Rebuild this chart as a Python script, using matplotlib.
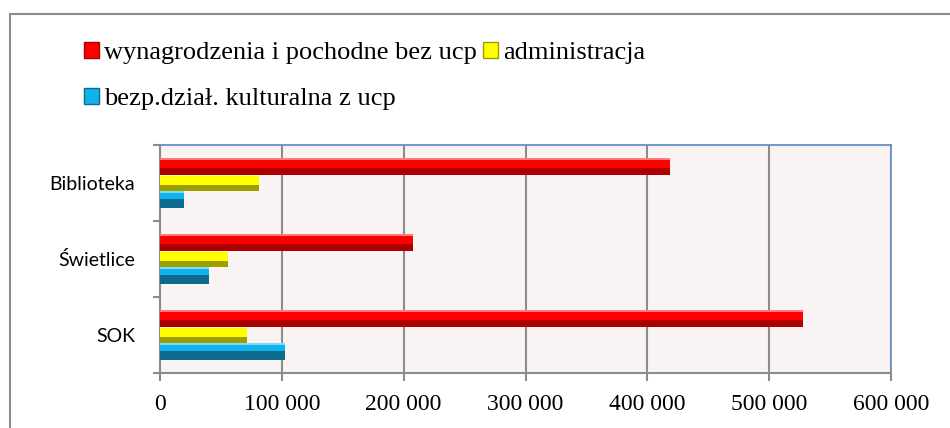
import matplotlib
matplotlib.use("Agg")
import matplotlib.pyplot as plt
from matplotlib.patches import Patch, Rectangle
import numpy as np

categories = ["SOK", "Świetlice", "Biblioteka"]
series_names = ["wynagrodzenia i pochodne bez ucp", "administracja", "bezp.dział. kulturalna z ucp"]
wynagrodzenia = [527500, 207800, 419000]
administracja = [71500, 55800, 81200]
bezp_dzial = [102700, 40200, 19700]
x_ticks = [0, 100000, 200000, 300000, 400000, 500000, 600000]
x_tick_labels = ["0", "100 000", "200 000", "300 000", "400 000", "500 000", "600 000"]

main_colors = ["#FF0000", "#FFFF00", "#0FB4EE"]
dark_colors = ["#AC0000", "#9E9E00", "#0D6A8C"]
light_edge = ["#FF7A7A", "#FFFF9A", "#7FDBFA"]

fig = plt.figure(figsize=(9.5, 4.28), dpi=100)
ax = fig.add_axes([160 / 950, 1 - 373 / 428, (891 - 160) / 950, (373 - 145) / 428])
ax.set_facecolor("#FAF3F3")

y = np.arange(len(categories))
h = 0.215
offsets = [h, 0.0, -h]
data = [wynagrodzenia, administracja, bezp_dzial]
dark_frac = [0.4, 0.4, 0.55]
for vals, off, c, dc, lc, df in zip(data, offsets, main_colors, dark_colors, light_edge, dark_frac):
    ax.barh(y + off, vals, height=h, color=c, edgecolor="none", zorder=3)
    ax.barh(y + off - h / 2 + h * df / 2, vals, height=h * df, color=dc, edgecolor="none", zorder=4)
    ax.barh(y + off + h / 2 - h * 0.05, vals, height=h * 0.1, color=lc, edgecolor="none", zorder=4)

ax.set_xlim(0, 600000)
ax.set_ylim(-0.5, 2.5)
ax.set_xticks(x_ticks)
ax.set_xticklabels(x_tick_labels, family="Liberation Serif", fontsize=17)
ax.tick_params(axis="x", length=6, width=1.5, color="#8C8C8C", pad=9)
ax.xaxis.grid(True, color="#8C8C8C", linewidth=1.5, zorder=1)
ax.set_axisbelow(True)

ax.set_yticks(np.arange(-0.5, len(categories), 1.0))
ax.set_yticklabels([])
ax.tick_params(axis="y", which="major", length=5, width=1.5, color="#8C8C8C")
ax.set_yticks(y, minor=True)
ax.set_yticklabels(categories, minor=True, family="Lato", fontsize=14)
ax.tick_params(axis="y", which="minor", length=0, pad=18)

for s in ["left", "bottom"]:
    ax.spines[s].set_color("#8C8C8C")
    ax.spines[s].set_linewidth(1.5)
for s in ["top", "right"]:
    ax.spines[s].set_color("#6890C6")
    ax.spines[s].set_linewidth(1.3)

handles = [Patch(facecolor=main_colors[0], edgecolor=dark_colors[0]),
           Patch(facecolor=main_colors[2], edgecolor=dark_colors[2]),
           Patch(facecolor=main_colors[1], edgecolor=dark_colors[1])]
labels = [series_names[0], series_names[2], series_names[1]]
fig.legend(handles, labels, loc="upper left", bbox_to_anchor=(84 / 950, 1 - 42 / 428),
           ncol=2, frameon=False, prop={"family": "Liberation Serif", "size": 19},
           handlelength=0.55, handleheight=0.55, handletextpad=0.2, columnspacing=0.25,
           labelspacing=0.9, borderaxespad=0, borderpad=0)

fig.patches.append(Rectangle((10 / 950, -0.1), 1.2, 1 - 14 / 428 + 0.1, transform=fig.transFigure,
                             fill=False, edgecolor="#8C8C8C", linewidth=1.5))

fig.savefig("out.png", dpi=100)
